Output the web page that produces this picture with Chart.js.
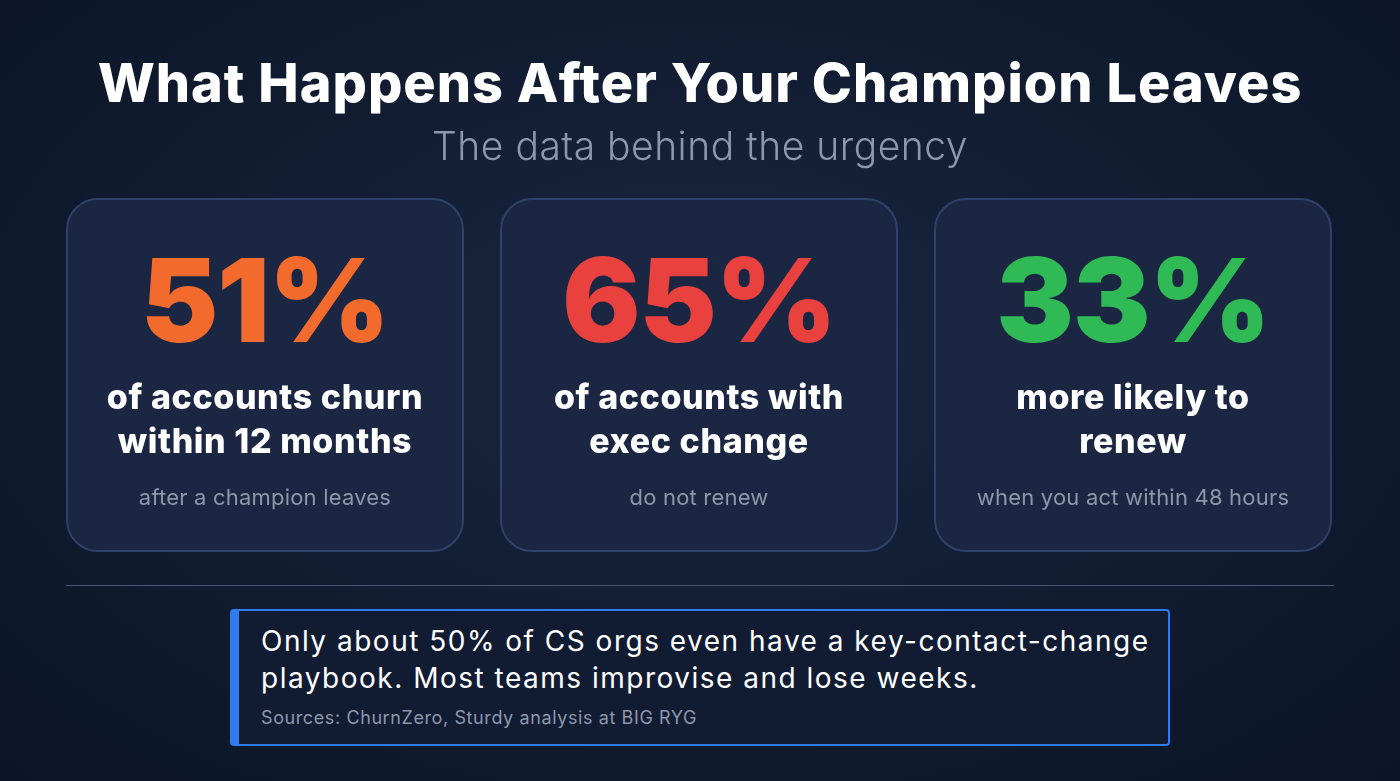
<!DOCTYPE html>
<html><head><meta charset="utf-8">
<script src="https://cdn.jsdelivr.net/npm/chart.js@4/dist/chart.umd.min.js"></script>
<style>
html,body{margin:0;padding:0;width:1400px;height:781px;overflow:hidden;}
body{background:radial-gradient(ellipse at 50% 45%,#1a2740 0%,#111c31 55%,#0c1527 100%);font-family:Inter,"Open Sans",sans-serif;position:relative;color:#fff;}
#bg{position:absolute;left:0;top:0;width:1400px;height:781px;}
h1{position:absolute;top:50px;left:0;width:1400px;text-align:center;margin:0;font-size:54px;font-weight:800;letter-spacing:1px;}
.sub{position:absolute;top:122px;left:0;width:1400px;text-align:center;font-size:39px;color:#8d97ab;font-weight:300;letter-spacing:0.5px;}
.card{position:absolute;top:198px;width:398px;height:354px;box-sizing:border-box;border:2px solid #2f416a;border-radius:32px;background:#1a2642;text-align:center;}
.num{position:absolute;top:30px;width:100%;font-size:116px;font-weight:900;letter-spacing:-1px;line-height:140px;}
.lab{position:absolute;top:175px;width:100%;font-size:34px;font-weight:800;line-height:44px;letter-spacing:0.6px;}
.note{position:absolute;top:284px;width:100%;font-size:22px;color:#8d97ab;letter-spacing:0.2px;}
.rule{position:absolute;left:66px;top:585px;width:1268px;height:1px;background:#4a5670;}
.box{position:absolute;left:230px;top:609px;width:940px;height:137px;box-sizing:border-box;border:2px solid #2f7bf0;border-left:9px solid #2f7bf0;border-radius:4px;background:#111c33;}
.box .t{position:absolute;left:22px;top:12px;font-size:28px;line-height:37px;color:#fff;letter-spacing:1.5px;white-space:nowrap;}
.box .s{position:absolute;left:22px;top:96px;font-size:18px;color:#8d97ab;letter-spacing:0.6px;}
</style></head><body>
<canvas id="bg" width="1400" height="781"></canvas>
<h1>What Happens After Your Champion Leaves</h1>
<div class="sub">The data behind the urgency</div>
<div id="cards"></div>
<div class="rule"></div>
<div class="box"><div class="t">Only about 50% of CS orgs even have a key-contact-change<br>playbook. Most teams improvise and lose weeks.</div><div class="s">Sources: ChurnZero, Sturdy analysis at BIG RYG</div></div>
<script>
const statValues=[51,65,33];
const statLabels=[["of accounts churn","within 12 months"],["of accounts with","exec change"],["more likely to","renew"]];
const statNotes=["after a champion leaves","do not renew","when you act within 48 hours"];
const statColors=["#f26a2c","#e8413e","#2fba55"];
const lefts=[66,500,934];
const c=document.getElementById('cards');
statValues.forEach((v,i)=>{
  const d=document.createElement('div');d.className='card';d.style.left=lefts[i]+'px';
  d.innerHTML=`<div class="num" style="color:${statColors[i]}">${v}%</div><div class="lab">${statLabels[i].join('<br>')}</div><div class="note">${statNotes[i]}</div>`;
  c.appendChild(d);
});
new Chart(document.getElementById('bg'),{type:'bar',data:{labels:[],datasets:[]},options:{responsive:false,animation:false,plugins:{legend:{display:false},tooltip:{enabled:false}},scales:{x:{display:false},y:{display:false}}}});
</script>
</body></html>
